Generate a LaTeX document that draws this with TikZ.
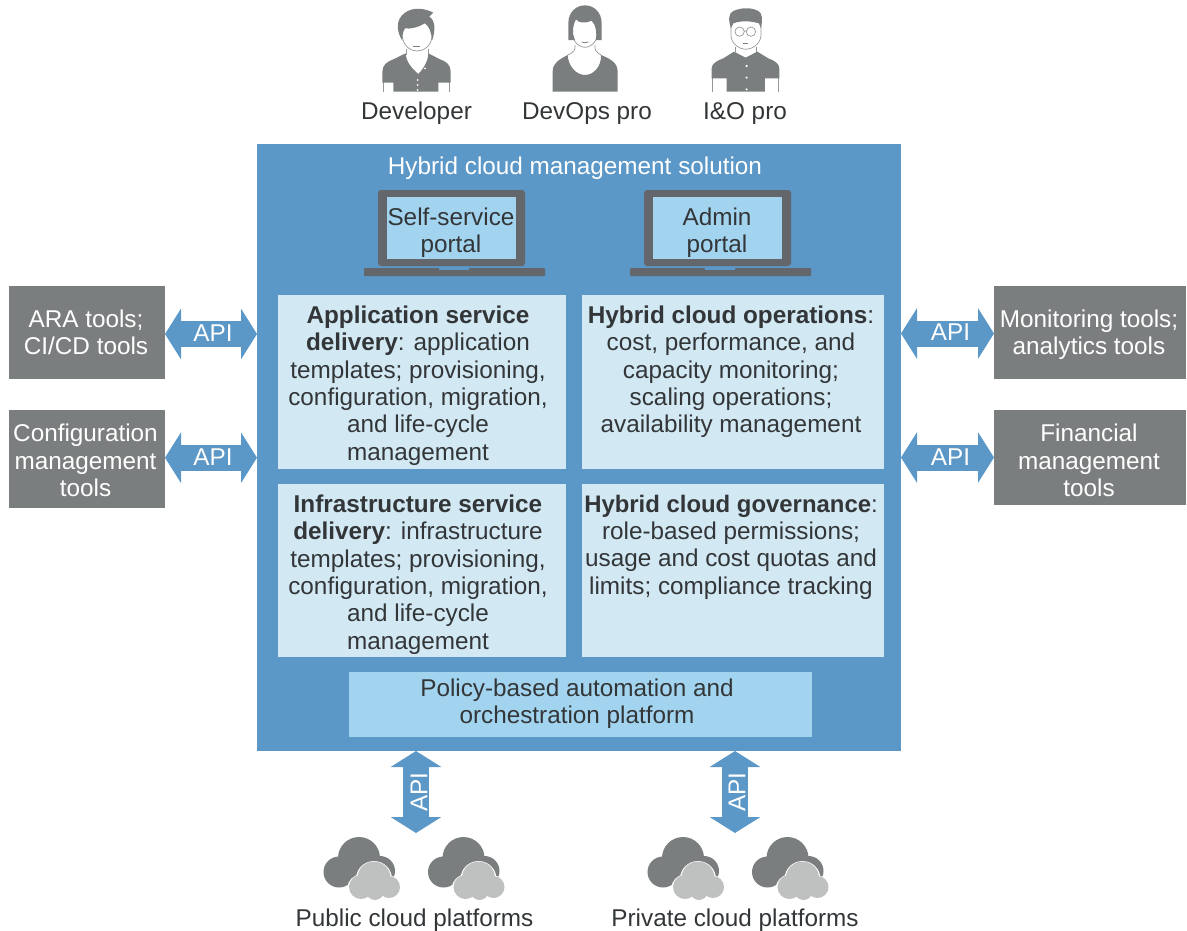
\documentclass[tikz,border=0pt]{standalone}
\usepackage{fontspec}
\setmainfont{Liberation Sans}
\usetikzlibrary{arrows.meta}
\definecolor{solblue}{HTML}{5B97C7}
\definecolor{paleblue}{HTML}{D2E8F3}
\definecolor{skyblue}{HTML}{A3D4EF}
\definecolor{toolgray}{HTML}{7B7E7F}
\definecolor{lapgray}{HTML}{63676B}
\definecolor{inkgray}{HTML}{333638}
\definecolor{cloudlight}{HTML}{BFC1C0}
\tikzset{
  every node/.style={font=\fontsize{24.3}{27.3}\selectfont,text=inkgray,align=center,inner sep=0pt,outer sep=0pt},
  box/.style={minimum width=#1,anchor=north west},
  toolbox/.style={fill=toolgray},
  toollabel/.style={text=white},
  panel/.style={fill=paleblue},
  apiarrow/.style={draw=solblue,line width=26pt,{Triangle[length=16pt,width=50pt]}-{Triangle[length=16pt,width=50pt]}},
  apilabel/.style={text=white},
  person/.style={fill=toolgray,draw=none},
  thinline/.style={draw=toolgray!80,line width=0.7pt},
  pics/cloudpair/.style={code={
    \fill[toolgray] (0,-11) circle (21) (-20,3) circle (15.5) (21,2) circle (15);
    \fill[white] (15,10) circle (18) (2,19) circle (13.5) (30,19) circle (12.5);
    \fill[cloudlight] (15,9) circle (16.5) (2,18) circle (12) (30,18) circle (11) (16,22) circle (9);
  }},
  pics/laptop/.style={code={
    \fill[lapgray,rounded corners=3pt] (0,0) rectangle (147,76);
    \fill[skyblue] (9,7) rectangle (138,69);
    \fill[lapgray,rounded corners=1pt] (-14,78) rectangle (167,86);
    \fill[solblue] (61,78) rectangle (91,80);
  }}
}
\begin{document}
\begin{tikzpicture}[x=1pt,y=-1pt]
\useasboundingbox (0,0) rectangle (1187,930);
% people (coordinates of a 3x enlargement)
\begin{scope}[shift={(350,0)},x=0.3333pt,y=-0.3333pt]
  % Developer
  \draw[thinline] (100,245) -- (100,275) (298,245) -- (298,275);
  \draw[thinline] (157,110) .. controls (160,140) and (185,153) .. (200,153) .. controls (220,153) and (243,140) .. (246,110);
  \draw[thinline] (168,148) -- (168,165) (235,148) -- (235,165);
  \fill[person] (157,122) .. controls (140,95) and (135,60) .. (165,38) .. controls (190,20) and (225,25) .. (250,38)
     -- (238,50) .. controls (255,60) and (258,90) .. (246,122) .. controls (244,95) and (238,80) .. (225,70)
     .. controls (205,82) and (180,88) .. (165,85) .. controls (158,95) and (157,110) .. (157,122) -- cycle;
  \fill[person] (97,248) -- (97,215) .. controls (98,195) and (110,185) .. (130,178) -- (167,160)
     .. controls (168,185) and (185,205) .. (205,222) .. controls (222,205) and (235,180) .. (235,160)
     -- (270,178) .. controls (290,185) and (302,195) .. (302,215) -- (302,248) -- (265,248) -- (265,275) -- (130,275) -- (130,248) -- cycle;
  \fill[white] (225,205) circle (3) (203,240) circle (3) (203,255) circle (3) (203,270) circle (3);
  \draw[toolgray,line width=0.8pt] (190,139) -- (210,139);
  % DevOps pro
  \draw[thinline] (672,120) .. controls (680,135) and (695,142) .. (705,142) .. controls (715,142) and (730,135) .. (738,120);
  \draw[thinline] (675,135) .. controls (678,150) and (670,158) .. (652,166) (735,135) .. controls (732,150) and (740,158) .. (755,166);
  \fill[person] (655,120) -- (655,70) .. controls (655,35) and (680,16) .. (705,16) .. controls (730,16) and (755,35) .. (755,70) -- (755,120) -- (737,120)
     .. controls (742,100) and (738,75) .. (725,62) .. controls (710,70) and (685,70) .. (678,58) .. controls (668,75) and (665,100) .. (675,120) -- cycle;
  \fill[person] (608,275) -- (608,215) .. controls (608,190) and (625,180) .. (653,165)
     .. controls (655,200) and (680,225) .. (705,225) .. controls (730,225) and (755,200) .. (753,165)
     .. controls (785,178) and (803,190) .. (803,215) -- (803,275) -- cycle;
  \draw[toolgray,line width=0.8pt] (695,126) .. controls (700,129) and (710,129) .. (715,126);
  % I&O pro
  \draw[thinline] (1088,235) -- (1088,275) (1285,235) -- (1285,275);
  \draw[thinline] (1143,80) -- (1143,110) .. controls (1148,135) and (1170,148) .. (1187,148) .. controls (1205,148) and (1228,135) .. (1233,110) -- (1233,80);
  \draw[thinline] (1155,140) -- (1155,155) (1220,140) -- (1220,155);
  \fill[person] (1143,85) .. controls (1135,60) and (1135,40) .. (1150,33) .. controls (1175,22) and (1205,22) .. (1225,33) .. controls (1238,40) and (1238,60) .. (1233,85)
     -- (1227,70) .. controls (1200,62) and (1170,62) .. (1150,70) -- cycle;
  \fill[person] (1085,235) -- (1085,205) .. controls (1085,192) and (1100,182) .. (1120,175) -- (1152,155)
     -- (1187,173) -- (1222,155) -- (1255,175) .. controls (1275,182) and (1288,192) .. (1288,205) -- (1288,235) -- (1245,235) -- (1245,275) -- (1130,275) -- (1130,235) -- cycle;
  \fill[white] (1190,198) circle (3.5) (1190,233) circle (3.5) (1190,268) circle (3.5);
  \draw[thinline] (1169,95) circle (14) (1203,95) circle (14) (1183,93) -- (1189,93);
  \draw[toolgray,line width=0.8pt] (1178,130) -- (1195,130);
\end{scope}
\node[anchor=base] (dev) at (416.5,119.5) {Developer};
\node[anchor=base] (devops) at (587,119.5) {DevOps pro};
\node[anchor=base] (io) at (745,119.5) {I\&O pro};
% main solution box
\node[box=644pt,minimum height=607pt,fill=solblue] (sol) at (257,144) {};
\node[apilabel] (soltitle) at (575,168) {Hybrid cloud management solution};
% laptops
\pic at (378,190) {laptop};
\pic at (644,190) {laptop};
\node (selfp) at (451,232.5) {Self-service\\portal};
\node (admp) at (717,232.5) {Admin\\portal};
% panels
\node[box=288pt,minimum height=174pt,panel] (p1) at (278,295) {};
\node[box=302pt,minimum height=174pt,panel] (p2) at (582,295) {};
\node[box=288pt,minimum height=173pt,panel] (p3) at (278,484) {};
\node[box=302pt,minimum height=173pt,panel] (p4) at (582,484) {};
\node[anchor=north] (t1) at (418,306) {\textbf{Application service}\\\textbf{delivery}: application\\templates; provisioning,\\configuration, migration,\\and life-cycle\\management};
\node[anchor=north] (t2) at (731,306) {\textbf{Hybrid cloud operations}:\\cost, performance, and\\capacity monitoring;\\scaling operations;\\availability management};
\node[anchor=north] (t3) at (418,495) {\textbf{Infrastructure service}\\\textbf{delivery}: infrastructure\\templates; provisioning,\\configuration, migration,\\and life-cycle\\management};
\node[anchor=north] (t4) at (731,495) {{\fontsize{23.9}{27.3}\selectfont\textbf{Hybrid cloud governance}:}\\role-based permissions;\\usage and cost quotas and\\limits; compliance tracking};
\node[box=463pt,minimum height=65pt,fill=skyblue] (plat) at (349,672) {};
\node (platt) at (577,704) {Policy-based automation and\\orchestration platform};
% tool boxes
\node[box=156pt,minimum height=93pt,toolbox] (ara) at (9,286) {};
\node[box=156pt,minimum height=98pt,toolbox] (conf) at (9,410) {};
\node[box=192pt,minimum height=93pt,toolbox] (mon) at (994,286) {};
\node[box=192pt,minimum height=95pt,toolbox] (fin) at (994,410) {};
\node[toollabel] (arat) at (86,332) {ARA tools;\\CI/CD tools};
\node[toollabel] (conft) at (85.5,460.5) {Configuration\\management\\tools};
\node[toollabel] (mont) at (1089,335) {Monitoring tools;\\analytics tools};
\node[toollabel] (fint) at (1089,460.5) {Financial\\management\\tools};
% API connectors
\draw[apiarrow] ([yshift=-1.5pt]ara.east) -- ([yshift=-1.5pt]ara.east -| sol.west) node[midway,apilabel,xshift=2pt,yshift=1pt] {API};
\draw[apiarrow] ([yshift=1.3pt]conf.east) -- ([yshift=1.3pt]conf.east -| sol.west) node[midway,apilabel,xshift=2pt,yshift=1pt] {API};
\draw[apiarrow] ([yshift=-1pt]mon.west) -- ([yshift=-1pt]mon.west -| sol.east) node[midway,apilabel,xshift=3pt,yshift=1pt] {API};
\draw[apiarrow] (fin.west) -- (fin.west -| sol.east) node[midway,apilabel,xshift=3pt,yshift=0pt] {API};
% clouds
\coordinate (pubtop) at (416,833);
\coordinate (pvttop) at (735,833);
\draw[apiarrow] (pubtop |- sol.south) -- (pubtop) node[midway,apilabel,rotate=90,yshift=-3pt] {API};
\draw[apiarrow] (pvttop |- sol.south) -- (pvttop) node[midway,apilabel,rotate=90,yshift=-2pt] {API};
\pic at (359,869) {cloudpair};
\pic at (463.5,869) {cloudpair};
\pic at (683,869) {cloudpair};
\pic at (787.5,869) {cloudpair};
\node (pub) at (414.5,920) {Public cloud platforms};
\node (pvt) at (735,920) {Private cloud platforms};
\end{tikzpicture}
\end{document}
